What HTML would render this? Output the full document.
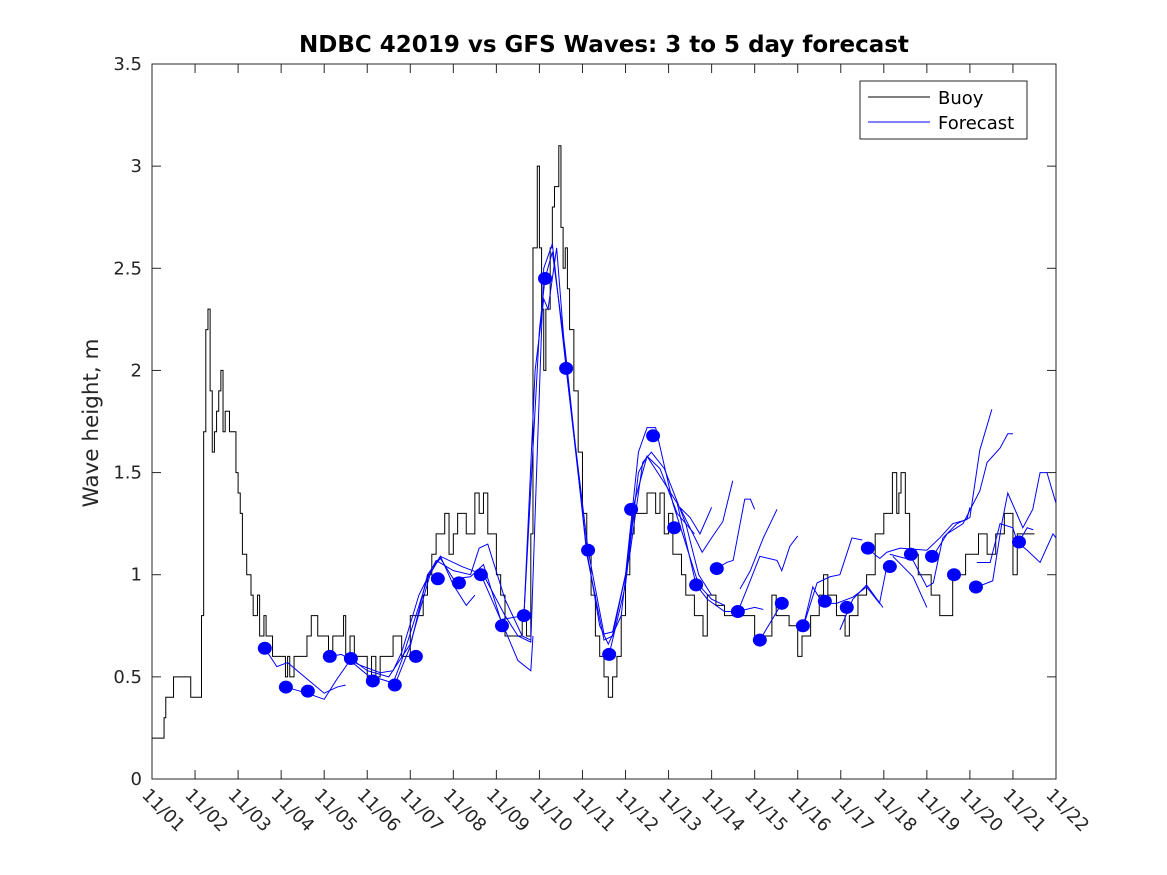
<!DOCTYPE html>
<html><head><meta charset="utf-8"><style>
body{margin:0;background:#fff;}
svg{display:block;font-family:"DejaVu Sans","Liberation Sans",sans-serif;}
</style></head><body>
<svg id="chart" width="1167" height="875" xmlns="http://www.w3.org/2000/svg">
<rect width="1167" height="875" fill="#fff"/>
<text x="604" y="52" text-anchor="middle" font-size="23" font-weight="bold" fill="#000">NDBC 42019 vs GFS Waves: 3 to 5 day forecast</text>
<text transform="translate(98,423) rotate(-90)" text-anchor="middle" font-size="21.5" fill="#262626">Wave height, m</text>
<g id="axes"></g>
<g id="plot"></g>
<g id="legend">
<rect x="860" y="81" width="167" height="58" fill="#fff" stroke="#262626" stroke-width="1"/>
<line x1="868" y1="97" x2="930" y2="97" stroke="#000"/>
<text x="938" y="104" font-size="18" fill="#000">Buoy</text>
<line x1="868" y1="122" x2="930" y2="122" stroke="#0000ff"/>
<text x="938" y="129" font-size="18" fill="#000">Forecast</text>
</g>
</svg>
<script>
const xTickLabels = ["11/01","11/02","11/03","11/04","11/05","11/06","11/07","11/08","11/09","11/10","11/11","11/12","11/13","11/14","11/15","11/16","11/17","11/18","11/19","11/20","11/21","11/22"];
const yTicks = [0,0.5,1,1.5,2,2.5,3,3.5];
const yTickLabels = ["0","0.5","1","1.5","2","2.5","3","3.5"];
// buoy step series: [day, value]
const buoyDays = [0,0.28,0.32,0.38,0.5,0.9,1.15,1.2,1.25,1.3,1.35,1.4,1.45,1.5,1.55,1.6,1.65,1.7,1.8,1.95,2.0,2.05,2.1,2.2,2.3,2.35,2.45,2.5,2.6,2.65,2.8,3.1,3.15,3.2,3.3,3.6,3.7,3.85,4.1,4.2,4.3,4.45,4.5,4.6,4.7,5.0,5.1,5.2,5.3,5.6,5.8,6.0,6.3,6.4,6.5,6.6,6.8,6.9,7.0,7.1,7.3,7.5,7.6,7.7,7.8,8.0,8.1,8.2,8.6,8.7,8.8,8.85,8.95,9.0,9.05,9.1,9.15,9.25,9.3,9.35,9.45,9.5,9.55,9.6,9.65,9.7,9.8,9.9,10.0,10.1,10.2,10.3,10.4,10.5,10.6,10.7,10.8,10.9,11.0,11.1,11.2,11.3,11.5,11.7,11.8,11.9,12.0,12.1,12.3,12.4,12.6,12.8,12.9,13.1,13.3,13.6,14.0,14.4,14.5,14.8,15.0,15.1,15.3,15.5,15.6,15.7,15.9,16.1,16.2,16.4,16.6,16.8,17.0,17.2,17.3,17.35,17.4,17.5,17.6,17.8,18.1,18.3,18.6,18.9,19.2,19.4,19.6,19.8,20.0,20.1,20.3,20.5];
const buoyVals = [0.2,0.3,0.4,0.4,0.5,0.4,0.8,1.7,2.2,2.3,1.9,1.6,1.7,1.8,1.9,2.0,1.7,1.8,1.7,1.5,1.4,1.3,1.1,1.0,0.9,0.8,0.9,0.7,0.8,0.7,0.6,0.5,0.6,0.5,0.6,0.7,0.8,0.7,0.6,0.7,0.7,0.8,0.6,0.7,0.6,0.5,0.6,0.5,0.6,0.7,0.6,0.8,0.9,1.0,1.1,1.2,1.3,1.1,1.2,1.3,1.2,1.4,1.3,1.4,1.2,1.0,0.9,0.7,0.8,0.7,1.2,2.6,3.0,2.6,2.3,2.0,2.3,2.6,2.8,2.9,3.1,2.7,2.5,2.6,2.4,2.2,1.9,1.6,1.3,1.1,0.9,0.7,0.6,0.5,0.4,0.5,0.6,0.8,1.0,1.2,1.3,1.3,1.4,1.3,1.4,1.2,1.3,1.1,1.0,0.9,0.8,0.7,0.9,0.85,0.8,0.8,0.7,0.9,0.8,0.75,0.6,0.7,0.8,0.9,1.0,0.9,0.8,0.7,0.8,0.9,1.0,1.2,1.3,1.5,1.3,1.4,1.5,1.3,1.1,1.0,0.9,0.8,1.0,1.1,1.2,1.1,1.2,1.3,1.0,1.2,1.2];
// forecast dots
const dotDays = [2.62,3.11,3.62,4.13,4.62,5.13,5.64,6.13,6.64,7.13,7.64,8.13,8.64,9.13,9.62,10.13,10.62,11.13,11.64,12.13,12.64,13.12,13.61,14.12,14.63,15.12,15.63,16.14,16.63,17.14,17.63,18.12,18.63,19.14,20.14];
const dotVals = [0.64,0.45,0.43,0.60,0.59,0.48,0.46,0.60,0.98,0.96,1.00,0.75,0.80,2.45,2.01,1.12,0.61,1.32,1.68,1.23,0.95,1.03,0.82,0.68,0.86,0.75,0.87,0.84,1.13,1.04,1.10,1.09,1.00,0.94,1.16];
// forecast lines: each [days, values]
const fc1d=[2.62,2.9,3.15,3.6,4.0,4.3,4.5], fc1v=[0.64,0.55,0.57,0.49,0.42,0.45,0.46];
const fc2d=[3.11,3.6,4.0,4.3,4.6,5.0,5.6,5.8,6.1,6.4,6.7,7.0,7.3,7.5], fc2v=[0.45,0.42,0.39,0.49,0.58,0.51,0.47,0.58,0.78,0.98,1.09,0.95,0.85,0.9];
const fc3d=[4.13,4.4,4.8,5.3,5.6,5.8,6.2,6.6,7.0,7.4,7.6,7.8,8.2,8.6,8.8], fc3v=[0.60,0.61,0.56,0.52,0.53,0.62,0.9,1.07,1.02,1.0,1.13,1.15,0.88,0.7,0.68];
const fc4d=[4.62,5.0,5.5,6.0,6.5,6.7,7.0,7.4,7.7,8.1,8.5,8.8,8.85], fc4v=[0.59,0.53,0.50,0.66,1.03,1.08,0.98,0.99,1.05,0.78,0.58,0.53,0.7];
const fc5d=[5.64,6.0,6.4,6.7,7.2,7.7,8.2,8.5,8.8,8.95,9.1,9.3,9.6,10.1,10.4,10.6,10.9,11.2,11.5,11.8,12.2,12.6], fc5v=[0.46,0.65,1.0,1.09,1.04,1.0,0.8,0.7,0.67,1.6,2.5,2.62,2.05,1.12,0.75,0.66,0.8,1.35,1.58,1.52,1.3,1.2];
const fc6d=[7.64,8.1,8.64,9.0,9.13,9.3,9.6,10.1,10.5,10.7,11.1,11.4,11.6,11.9,12.4,12.7,13.0], fc6v=[1.0,0.78,0.8,2.2,2.45,2.58,2.1,1.1,0.68,0.7,1.1,1.55,1.6,1.52,1.25,1.0,0.9];
const fc7d=[8.64,8.9,9.1,9.2,9.4,9.62,10.13,10.5,10.7,11.0,11.3,11.5,11.7,12.1,12.4,12.7,13.0,13.3], fc7v=[0.8,2.0,2.35,2.3,2.6,2.01,1.12,0.71,0.72,1.0,1.6,1.72,1.72,1.35,1.15,0.95,0.88,0.85];
const fc8d=[10.62,11.0,11.3,11.5,11.9,12.2,12.64,12.9,13.3,13.6,14.0,14.2], fc8v=[0.61,0.95,1.5,1.58,1.45,1.35,0.95,0.88,0.82,0.82,0.84,0.83];
const fc9d=[12.26,12.78,13.03,13.26,13.49], fc9v=[1.33,1.11,1.19,1.26,1.46];
const fc10d=[12.26,12.5,12.73,13.0], fc10v=[1.33,1.28,1.20,1.33];
const fc11d=[13.12,13.35,13.5,13.77,13.9,14.0], fc11v=[1.03,1.06,1.07,1.37,1.37,1.32];
const fc12d=[13.61,13.82,14.12,14.52,14.63,14.82,15.0], fc12v=[0.82,0.93,1.09,1.07,1.02,1.14,1.19];
const fc13d=[14.12,14.63], fc13v=[0.68,0.86];
const fc14d=[13.66,13.9,14.2,14.52], fc14v=[0.93,1.02,1.18,1.32];
const fc15d=[15.12,15.35,15.58,15.9,16.28,16.6,16.9,17.07], fc15v=[0.74,0.94,0.86,0.86,0.89,0.94,0.86,1.04];
const fc16d=[15.12,15.45,15.75,15.98,16.26,16.5], fc16v=[0.74,0.96,0.99,1.0,1.18,1.17];
const fc17d=[15.98,16.28,16.6,16.98], fc17v=[0.73,0.88,0.95,0.84];
const fc18d=[16.63,16.84,16.91,17.07,17.38,18.0,18.3,18.6,18.93,19.0], fc18v=[1.13,1.09,1.08,1.11,1.13,1.12,1.18,1.25,1.27,1.33];
const fc19d=[17.14,17.68,18.0,18.15,18.37,18.7,19.0,19.23,19.51], fc19v=[1.1,1.07,0.94,0.96,1.18,1.25,1.28,1.61,1.81];
const fc20d=[17.21,17.68,18.0], fc20v=[1.09,0.99,0.84];
const fc21d=[18.14,18.47,18.84,19.23,19.4,19.7,19.88,20.0], fc21v=[1.09,1.2,1.25,1.41,1.55,1.62,1.69,1.69];
const fc22d=[19.16,19.53,19.74,19.88,20.23,20.46,20.63,20.79,21.0], fc22v=[0.94,0.97,1.25,1.40,1.23,1.32,1.5,1.5,1.35];
const fc23d=[19.16,19.47,19.7,20.0,20.1,20.33,20.63,20.93,21.0], fc23v=[1.06,1.06,1.25,1.23,1.16,1.12,1.06,1.2,1.18];
const fc24d=[20.14,20.33,20.47], fc24v=[1.16,1.23,1.22];
const fcDays=[fc1d,fc2d,fc3d,fc4d,fc5d,fc6d,fc7d,fc8d,fc9d,fc10d,fc11d,fc12d,fc13d,fc14d,fc15d,fc16d,fc17d,fc18d,fc19d,fc20d,fc21d,fc22d,fc23d,fc24d];
const fcVals=[fc1v,fc2v,fc3v,fc4v,fc5v,fc6v,fc7v,fc8v,fc9v,fc10v,fc11v,fc12v,fc13v,fc14v,fc15v,fc16v,fc17v,fc18v,fc19v,fc20v,fc21v,fc22v,fc23v,fc24v];

const NS="http://www.w3.org/2000/svg";
const L=152,R=1056,T=64,B=779;
const xs=d=>L+d*(R-L)/21;
const ys=v=>B-v*(B-T)/3.5;
function mk(tag,attrs,parent){const e=document.createElementNS(NS,tag);for(const k in attrs)e.setAttribute(k,attrs[k]);parent.appendChild(e);return e;}
const axes=document.getElementById('axes'), plot=document.getElementById('plot');
const frame=mk('rect',{x:L,y:T,width:R-L,height:B-T,fill:'none',stroke:'#262626','stroke-width':1},axes);


yTicks.forEach((v,i)=>{
  const y=ys(v);
  const t1=mk('line',{x1:L,y1:y,x2:L+9,y2:y,stroke:'#262626'},axes);
  
  
  const t2=mk('line',{x1:R,y1:y,x2:R-9,y2:y,stroke:'#262626'},axes);
  
  
  const tx=mk('text',{x:L-10,y:y+6,'text-anchor':'end','font-size':18,fill:'#262626'},axes);
  tx.textContent=yTickLabels[i];
  
  
});
xTickLabels.forEach((lab,i)=>{
  const x=xs(i);
  const t1=mk('line',{x1:x,y1:B,x2:x,y2:B-9,stroke:'#262626'},axes);
  
  
  const t2=mk('line',{x1:x,y1:T,x2:x,y2:T+9,stroke:'#262626'},axes);
  
  
  const tx=mk('text',{x:0,y:0,transform:`translate(${x-11},${B+17}) rotate(45)`,'font-size':18,fill:'#262626'},axes);
  tx.textContent=lab;
  
  
});
// buoy step path
let d='';
buoyDays.forEach((dd,i)=>{
  const x=xs(dd), y=ys(buoyVals[i]);
  if(i===0) d+=`M${x},${y}`; else d+=`H${x}V${y}`;
});
const bp=mk('path',{d:d,fill:'none',stroke:'#000','stroke-width':1},plot);


fcDays.forEach((arr,j)=>{
  const pts=arr.map((dd,i)=>xs(dd)+','+ys(fcVals[j][i])).join(' ');
  const pl=mk('polyline',{points:pts,fill:'none',stroke:'#0000ff','stroke-width':1},plot);
  
  
});
dotDays.forEach((dd,i)=>{
  const c=mk('ellipse',{cx:xs(dd),cy:ys(dotVals[i]),rx:7,ry:6.5,fill:'#0000ff'},plot);
  
  
});
</script>
</body></html>
